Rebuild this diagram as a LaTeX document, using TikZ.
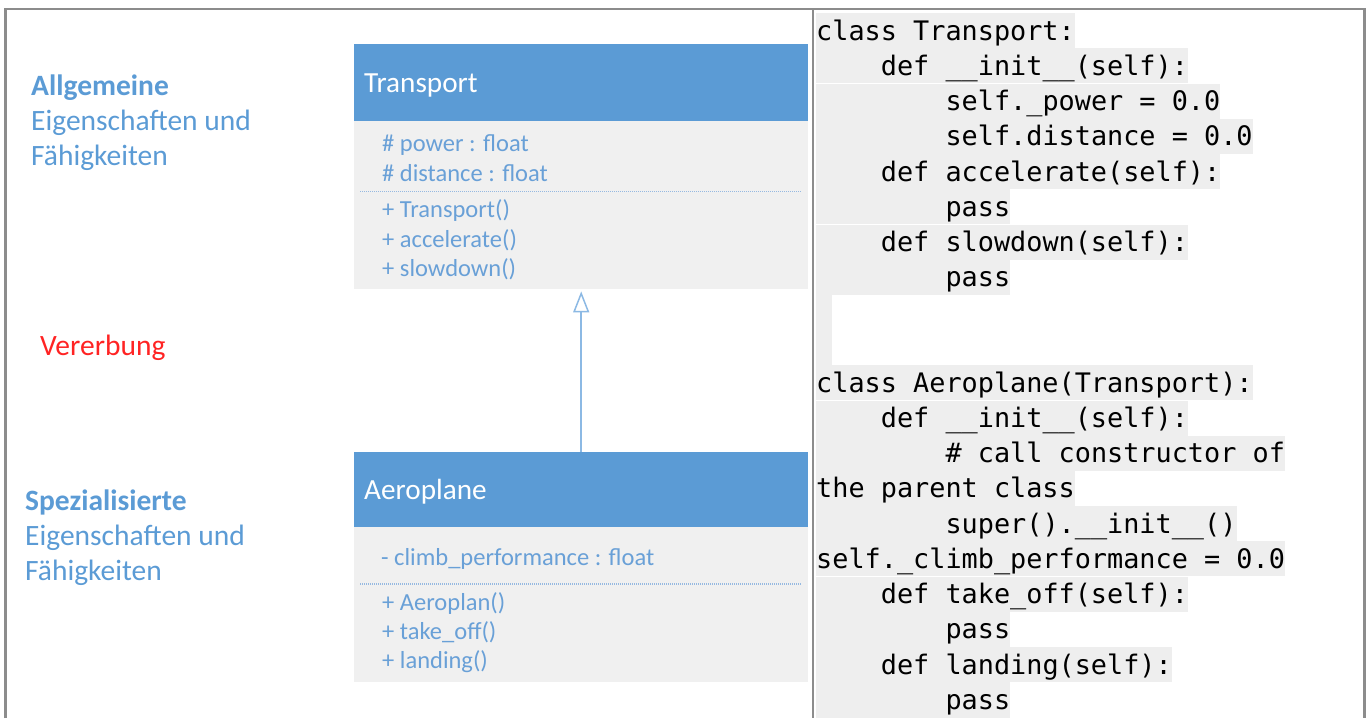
\documentclass[tikz,border=0pt]{standalone}
\usepackage{fontspec}
\setmainfont{Carlito}
\setmonofont{DejaVu Sans Mono}
\usetikzlibrary{arrows.meta}
\definecolor{hdr}{RGB}{91,155,213}
\definecolor{bodyg}{RGB}{240,240,240}
\definecolor{attr}{RGB}{105,160,215}
\definecolor{lbl}{RGB}{91,155,213}
\definecolor{redl}{RGB}{255,35,35}
\definecolor{codeg}{RGB}{238,238,238}
\definecolor{framec}{RGB}{140,140,140}
\definecolor{dotc}{RGB}{150,185,225}
\definecolor{arr}{RGB}{140,185,228}
\begin{document}
\begin{tikzpicture}[x=1pt,y=-1pt,
  header/.style={fill=hdr, draw=none, minimum width=454pt, minimum height=#1, anchor=north west, inner sep=0pt},
  classbody/.style={fill=bodyg, draw=none, minimum width=454pt, minimum height=#1, anchor=north west, inner sep=0pt},
  hdrtext/.style={anchor=base west, text=white, font=\fontsize{29.2}{35}\selectfont, inner sep=0pt},
  attrtext/.style={anchor=base west, text=attr, font=\fontsize{24.5}{29}\selectfont, inner sep=0pt},
  sidelabel/.style={anchor=base west, text=lbl, font=\fontsize{29.5}{35}\selectfont, inner sep=0pt},
  codeln/.style={anchor=north west, fill=codeg, inner sep=0pt, text height=27pt, text depth=8.25pt, font=\ttfamily\fontsize{26.85}{35.25}\selectfont},
  sepline/.style={draw=dotc, line width=1.5pt, dash pattern=on 1pt off 1pt},
  inh/.style={draw=arr, line width=1.5pt, -{Triangle[open, length=21pt, width=16pt, fill=white]}, shorten >=2pt},
  framel/.style={draw=framec, line width=2.2pt}
]
\useasboundingbox (0,0) rectangle (1369,718);

% ---- left labels
\node[sidelabel, font=\bfseries\fontsize{29.5}{35}\selectfont] (l1) at (31,95) {Allgemeine};
\node[sidelabel] (l2) at (31,130) {Eigenschaften und};
\node[sidelabel] (l3) at (31,165) {Fähigkeiten};
\node[sidelabel, text=redl] (l4) at (40,355) {Vererbung};
\node[sidelabel, font=\bfseries\fontsize{29.5}{35}\selectfont] (l5) at (25,510) {Spezialisierte};
\node[sidelabel] (l6) at (25,545) {Eigenschaften und};
\node[sidelabel] (l7) at (25,580) {Fähigkeiten};

% ---- Transport class
\node[header=77pt] (tH) at (354,44) {};
\node[classbody=168pt] (tB) at (354,121) {};
\node[hdrtext] (tN) at (364,92) {Transport};
\node[attrtext] (tA1) at (382,151) {\# power : float};
\node[attrtext] (tA2) at (382,181) {\# distance : float};
\draw[sepline] (360,191.7) -- (802,191.7);
\node[attrtext] (tM1) at (382,217) {+ Transport()};
\node[attrtext] (tM2) at (382,247) {+ accelerate()};
\node[attrtext] (tM3) at (382,276) {+ slowdown()};

% ---- Aeroplane class
\node[header=75.5pt] (aH) at (354,452) {};
\node[classbody=155pt] (aB) at (354,527) {};
\node[hdrtext] (aN) at (364,499) {Aeroplane};
\node[attrtext] (aA1) at (381,565) {- climb\_performance : float};
\draw[sepline] (360,584) -- (802,584);
\node[attrtext] (aM1) at (382,610) {+ Aeroplan()};
\node[attrtext] (aM2) at (382,639) {+ take\_off()};
\node[attrtext] (aM3) at (382,668) {+ landing()};

% ---- inheritance
\draw[inh] (aH.north) -- (tB.south);

% ---- code
\node[codeln] (c1) at (816,13) {class Transport:};
\node[codeln] (c2) at (816,48.25) {~~~~def \_\_init\_\_(self):};
\node[codeln] (c3) at (816,83.5) {~~~~~~~~self.\_power = 0.0};
\node[codeln] (c4) at (816,118.75) {~~~~~~~~self.distance = 0.0};
\node[codeln] (c5) at (816,154) {~~~~def accelerate(self):};
\node[codeln] (c6) at (816,189.25) {~~~~~~~~pass};
\node[codeln] (c7) at (816,224.5) {~~~~def slowdown(self):};
\node[codeln] (c8) at (816,259.75) {~~~~~~~~pass};
\fill[codeg] (816,295) rectangle (832,365);
\node[codeln] (d1) at (816,365) {class Aeroplane(Transport):};
\node[codeln] (d2) at (816,400.25) {~~~~def \_\_init\_\_(self):};
\node[codeln] (d3) at (816,435.5) {~~~~~~~~\# call constructor of};
\node[codeln] (d4) at (816,470.75) {the parent class};
\node[codeln] (d5) at (816,506) {~~~~~~~~super().\_\_init\_\_()};
\node[codeln] (d6) at (816,541.25) {self.\_climb\_performance = 0.0};
\node[codeln] (d7) at (816,576.5) {~~~~def take\_off(self):};
\node[codeln] (d8) at (816,611.75) {~~~~~~~~pass};
\node[codeln] (d9) at (816,647) {~~~~def landing(self):};
\node[codeln] (d10) at (816,682.25) {~~~~~~~~pass};
\fill[white] (816,82.9) rectangle (1240,84.1);
\fill[white] (816,223.9) rectangle (1200,225.1);
\fill[white] (816,399.7) rectangle (1260,400.9);
\fill[white] (816,575.9) rectangle (1300,577.1);

% ---- table frame
\draw[framel] (5.5,718) -- (5.5,9.3) -- (1364.5,9.3) -- (1364.5,718);
\draw[framel] (813,9.3) -- (813,718);
\end{tikzpicture}
\end{document}
